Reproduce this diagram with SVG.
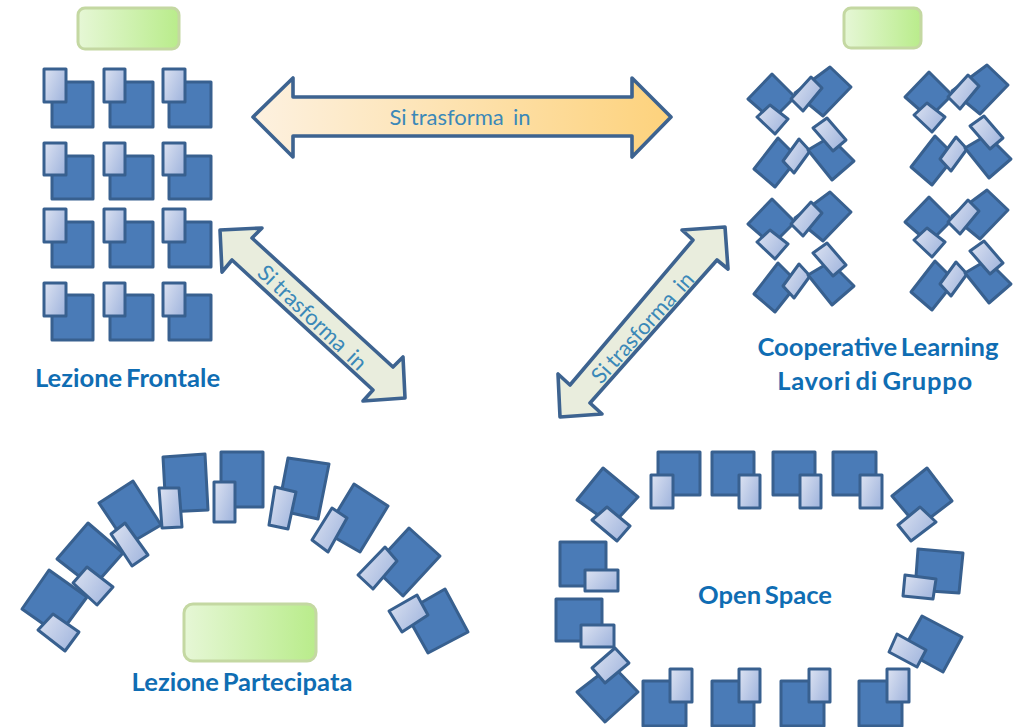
<svg xmlns="http://www.w3.org/2000/svg" xmlns:xlink="http://www.w3.org/1999/xlink" width="1022" height="727" viewBox="0 0 1022 727">
<style>
.b{fill:#4a7bb7;stroke:#38608f;stroke-width:3;stroke-linejoin:round}
.s{fill:url(#sg);stroke:#38608f;stroke-width:3;stroke-linejoin:round}
.g{fill:url(#gg);stroke:#c4d8a2;stroke-width:3}
.a{stroke:#3d6390;stroke-width:3.6;stroke-linejoin:round}
.d{fill:#e9eddd}
.l{font-family:Lato,"Open Sans",sans-serif;font-weight:700;font-size:25.6px;fill:#0f6db3;text-anchor:middle;word-spacing:-2.5px}
.t{font-family:Lato,"Open Sans",sans-serif;font-size:22px;fill:#3a88b8;text-anchor:middle;word-spacing:-1.5px}
</style>
<defs>
<linearGradient id="sg" x1="0" y1="0" x2="1" y2="0.6"><stop offset="0" stop-color="#dde3f2"/><stop offset="1" stop-color="#a6b9df"/></linearGradient>
<linearGradient id="gg" x1="0" y1="0" x2="1" y2="0"><stop offset="0" stop-color="#e6f7d6"/><stop offset="1" stop-color="#b9ec8b"/></linearGradient>
<linearGradient id="og" x1="0" y1="0" x2="1" y2="0"><stop offset="0" stop-color="#fdf1e0"/><stop offset="1" stop-color="#fdd27c"/></linearGradient>
<g id="c1">
<polygon class="b" points="772,74 795,97 772,120 748,99"/><polygon class="s" points="770,105 788,119 775,134 757,117"/>
<polygon class="b" points="830,67 851,87 823,116 795,93"/><polygon class="s" points="811,77 822,88 803,111 791,99"/>
<polygon class="b" points="778,138 798,158 775,187 754,169"/><polygon class="s" points="799,139 810,151 794,173 783,161"/>
<polygon class="b" points="830,137 854,161 832,180 808,150"/><polygon class="s" points="827,118 846,140 833,151 813,128"/>
</g>
</defs>
<rect width="1022" height="727" fill="#fff"/>
<g id="connectors">
<polygon class="a" fill="url(#og)" points="253,117 293,78 293,97 632,97 632,78 671,117 632,157 632,136 293,136 293,157"/>
<polygon class="a d" points="220,230 262,228 252,238 393,367 403,357 405,398 363,401 373,390 232,260 222,272"/>
<polygon class="a d" points="725,227 682,230 693,240 570,385 558,374 560,417 602,414 590,403 717,260 728,269"/>
</g>
<g id="label-box-frontale"><rect class="g" x="78" y="8" width="101" height="41" rx="7"/></g>
<g id="label-box-cooperative"><rect class="g" x="844" y="8" width="77" height="40" rx="7"/></g>
<g id="label-box-partecipata"><rect class="g" x="184" y="604" width="132" height="57" rx="9"/></g>
<g id="arrow-labels">
<text class="t" x="460" y="125">Si trasforma<tspan dx="5"> in</tspan></text>
<text class="t" transform="translate(312,318) rotate(43.6)" x="0" y="7">Si trasforma<tspan dx="5"> in</tspan></text>
<text class="t" transform="translate(643,328) rotate(-48)" x="0" y="7">Si trasforma<tspan dx="5"> in</tspan></text>
</g>
<g id="frontale">
<g id="f11"><rect class="b" x="52" y="82" width="41" height="45"/><rect class="s" x="44" y="69" width="22" height="33"/></g>
<g id="f12"><rect class="b" x="110" y="82" width="43" height="45"/><rect class="s" x="104" y="69" width="21" height="33"/></g>
<g id="f13"><rect class="b" x="169" y="82" width="42" height="45"/><rect class="s" x="163" y="69" width="22" height="33"/></g>
<g id="f21"><rect class="b" x="52" y="156" width="41" height="43"/><rect class="s" x="44" y="143" width="22" height="32"/></g>
<g id="f22"><rect class="b" x="110" y="156" width="43" height="43"/><rect class="s" x="104" y="143" width="21" height="32"/></g>
<g id="f23"><rect class="b" x="169" y="156" width="42" height="43"/><rect class="s" x="163" y="143" width="22" height="32"/></g>
<g id="f31"><rect class="b" x="52" y="222" width="41" height="45"/><rect class="s" x="44" y="209" width="22" height="33"/></g>
<g id="f32"><rect class="b" x="110" y="222" width="43" height="45"/><rect class="s" x="104" y="209" width="21" height="33"/></g>
<g id="f33"><rect class="b" x="169" y="222" width="42" height="45"/><rect class="s" x="163" y="209" width="22" height="33"/></g>
<g id="f41"><rect class="b" x="52" y="295" width="41" height="45"/><rect class="s" x="44" y="283" width="22" height="33"/></g>
<g id="f42"><rect class="b" x="110" y="295" width="43" height="45"/><rect class="s" x="104" y="283" width="21" height="33"/></g>
<g id="f43"><rect class="b" x="169" y="295" width="42" height="45"/><rect class="s" x="163" y="283" width="22" height="33"/></g>
</g>
<g id="cooperative">
<g id="cluster1"><use href="#c1"/></g>
<g id="cluster2"><use href="#c1" x="157" y="-2"/></g>
<g id="cluster3"><use href="#c1" y="125"/></g>
<g id="cluster4"><use href="#c1" x="157" y="123"/></g>
</g>
<g id="partecipata">
<g id="p1"><polygon class="b" points="49,570 87,597 59,635 22,609"/><polygon class="s" points="53,614 79,632 65,651 38,630"/></g>
<g id="p2"><polygon class="b" points="88,523 123,553 93,587 57,559"/><polygon class="s" points="87,567 113,587 97,605 73,583"/></g>
<g id="p3"><polygon class="b" points="133,481 161,525 127,545 99,503"/><polygon class="s" points="125,523 148,555 132,566 111,534"/></g>
<g id="p4"><polygon class="b" points="163,457 205,454 208,510 166,512"/><polygon class="s" points="159,488 179,488 182,527 162,528"/></g>
<g id="p5"><polygon class="b" points="221,452 263,452 263,507 221,507"/><polygon class="s" points="214,482 235,482 235,522 214,522"/></g>
<g id="p6"><polygon class="b" points="288,458 329,464 318,519 278,510"/><polygon class="s" points="275,487 296,492 288,529 269,525"/></g>
<g id="p7"><polygon class="b" points="354,484 388,506 360,552 325,532"/><polygon class="s" points="332,508 347,518 328,552 312,540"/></g>
<g id="p8"><polygon class="b" points="409,528 440,556 403,596 373,567"/><polygon class="s" points="385,547 397,561 373,589 358,575"/></g>
<g id="p9"><polygon class="b" points="445,589 468,632 428,653 405,612"/><polygon class="s" points="417,595 428,615 402,632 389,611"/></g>
</g>
<g id="openspace">
<g id="o1"><rect class="b" x="658" y="452" width="42" height="43"/><rect class="s" x="651" y="475" width="22" height="33"/></g>
<g id="o2"><rect class="b" x="712" y="452" width="42" height="43"/><rect class="s" x="739" y="475" width="21" height="33"/></g>
<g id="o3"><rect class="b" x="773" y="452" width="42" height="43"/><rect class="s" x="800" y="475" width="21" height="33"/></g>
<g id="o4"><rect class="b" x="833" y="452" width="43" height="43"/><rect class="s" x="860" y="475" width="22" height="33"/></g>
<g id="o5"><polygon class="b" points="927,468 952,501 918,527 892,496"/><polygon class="s" points="920,507 936,522 911,541 898,525"/></g>
<g id="o6"><polygon class="b" points="918,549 963,553 959,593 915,590"/><polygon class="s" points="905,575 936,579 933,599 903,596"/></g>
<g id="o7"><polygon class="b" points="922,616 962,637 943,672 903,650"/><polygon class="s" points="897,634 926,650 917,667 889,652"/></g>
<g id="o8"><rect class="b" x="859" y="681" width="43" height="45"/><rect class="s" x="887" y="669" width="22" height="33"/></g>
<g id="o9"><rect class="b" x="781" y="681" width="43" height="45"/><rect class="s" x="809" y="669" width="21" height="33"/></g>
<g id="o10"><rect class="b" x="712" y="681" width="42" height="45"/><rect class="s" x="739" y="669" width="21" height="33"/></g>
<g id="o11"><rect class="b" x="643" y="681" width="43" height="45"/><rect class="s" x="670" y="669" width="22" height="33"/></g>
<g id="o12"><polygon class="b" points="577,692 605,722 638,692 612,665"/><polygon class="s" points="615,648 629,663 605,683 592,668"/></g>
<g id="o13"><rect class="b" x="556" y="599" width="46" height="42"/><rect class="s" x="581" y="625" width="33" height="22"/></g>
<g id="o14"><rect class="b" x="560" y="542" width="46" height="44"/><rect class="s" x="585" y="570" width="33" height="21"/></g>
<g id="o15"><polygon class="b" points="603,468 638,497 612,525 577,500"/><polygon class="s" points="607,507 630,526 617,541 592,520"/></g>
</g>
<g id="labels">
<text class="l" x="127.500" y="387">Lezione Frontale</text>
<text class="l" x="878" y="356">Cooperative Learning</text>
<text class="l" x="875" y="390" letter-spacing="0.7">Lavori di Gruppo</text>
<text class="l" x="242" y="691">Lezione Partecipata</text>
<text class="l" x="765" y="604">Open Space</text>
</g>
</svg>
